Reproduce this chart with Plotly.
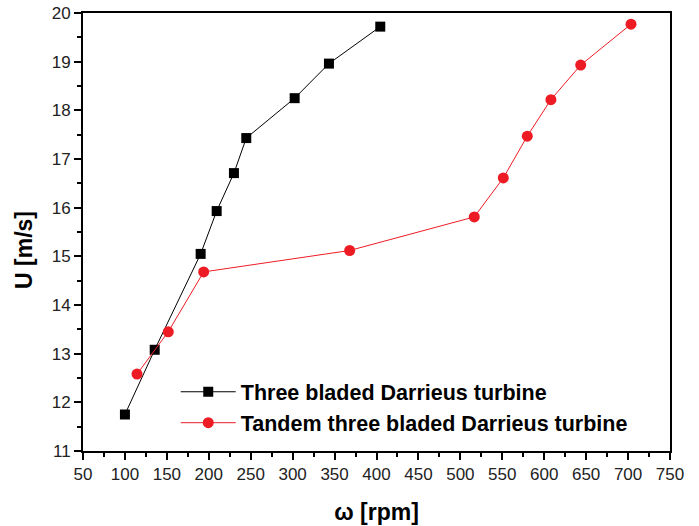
import plotly.graph_objects as go

three_w = [100, 135.5, 190.3, 209.4, 230, 244.7, 302.4, 343.3, 404.5]
three_u = [11.75, 13.08, 15.05, 15.93, 16.71, 17.43, 18.25, 18.96, 19.72]
tandem_w = [114.4, 151.7, 193.9, 368, 516.6, 551.2, 579.8, 608, 643.5, 703.5]
tandem_u = [12.58, 13.45, 14.68, 15.12, 15.81, 16.61, 17.47, 18.22, 18.93, 19.77]

x_ticks = list(range(50, 751, 50))
y_ticks = list(range(11, 21))

FONT = "Liberation Sans, Arial"

fig = go.Figure()
fig.add_trace(go.Scatter(x=three_w, y=three_u, mode="lines+markers",
                         name="Three bladed Darrieus turbine",
                         line=dict(color="black", width=1),
                         marker=dict(symbol="square", size=10, color="black")))
fig.add_trace(go.Scatter(x=tandem_w, y=tandem_u, mode="lines+markers",
                         name="Tandem three bladed Darrieus turbine",
                         line=dict(color="#ed1c24", width=1),
                         marker=dict(symbol="circle", size=11, color="#ed1c24")))

axis_common = dict(showline=True, linecolor="black", linewidth=2, mirror=True,
                   ticks="outside", ticklen=7, tickwidth=2, tickcolor="black",
                   showgrid=False, zeroline=False, automargin=False,
                   tickfont=dict(family=FONT, size=17, color="#222"))

fig.update_xaxes(range=[50, 750], tickvals=x_ticks, ticktext=[str(v) for v in x_ticks],
                 minor=dict(ticks="outside", ticklen=4, tickwidth=1.5, tickcolor="black", dtick=25),
                 title=dict(text="<b>ω [rpm]</b>", font=dict(family=FONT, size=23, color="black"), standoff=20),
                 **axis_common)
fig.update_yaxes(range=[11, 20], tickvals=y_ticks, ticktext=[str(v) for v in y_ticks],
                 minor=dict(ticks="outside", ticklen=4, tickwidth=1.5, tickcolor="black", dtick=0.5),
                 **axis_common)

fig.add_annotation(text="<b>U [m/s]</b>", textangle=-90, xref="paper", yref="paper",
                   x=-0.1005, y=0.459, xanchor="center", yanchor="middle", showarrow=False,
                   font=dict(family=FONT, size=23, color="black"))

fig.update_layout(width=699, height=526, plot_bgcolor="white", paper_bgcolor="white",
                  margin=dict(l=83, r=29, t=13, b=75),
                  legend=dict(x=0.158, y=0.182, xanchor="left", yanchor="top",
                              bgcolor="rgba(0,0,0,0)",
                              font=dict(family=FONT, size=21.5, color="black", weight="bold"),
                              tracegroupgap=0, itemwidth=55))
fig.write_html("out.html")
